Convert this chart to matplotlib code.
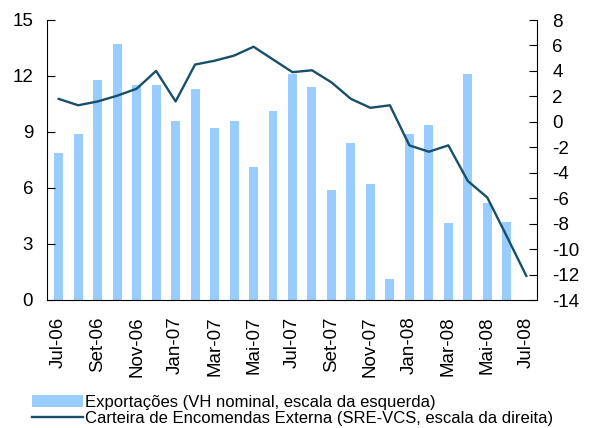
import matplotlib
matplotlib.use("Agg")
import matplotlib.pyplot as plt
import numpy as np

plt.rcParams["font.family"] = ["Liberation Sans", "DejaVu Sans"]
plt.rcParams["axes.unicode_minus"] = False

months = ["Jul-06", "Ago-06", "Set-06", "Out-06", "Nov-06", "Dez-06",
          "Jan-07", "Fev-07", "Mar-07", "Abr-07", "Mai-07", "Jun-07",
          "Jul-07", "Ago-07", "Set-07", "Out-07", "Nov-07", "Dez-07",
          "Jan-08", "Fev-08", "Mar-08", "Abr-08", "Mai-08", "Jun-08", "Jul-08"]
exports = [7.9, 8.9, 11.8, 13.7, 11.5, 11.5, 9.6, 11.3, 9.2, 9.6, 7.1, 10.1,
           12.1, 11.4, 5.9, 8.4, 6.2, 1.1, 8.9, 9.4, 4.1, 12.1, 5.2, 4.2, np.nan]
orders = [1.8, 1.3, 1.6, 2.05, 2.6, 4.0, 1.6, 4.5, 4.8, 5.2, 5.9, 4.9,
          3.9, 4.05, 3.1, 1.8, 1.1, 1.3, -1.85, -2.35, -1.85, -4.65, -5.95,
          -9.0, -12.1]

BAR_COLOR = "#99ccff"
LINE_COLOR = "#175068"

x = np.arange(len(months))
fig = plt.figure(figsize=(5.89, 4.28), dpi=100)
ax = fig.add_axes([47 / 589, 1 - 300 / 428, 490 / 589, 280 / 428])
bars = ax.bar(x, exports, width=0.46, color=BAR_COLOR,
              label="Exportações (VH nominal, escala da esquerda)")
ax.set_ylim(0, 15)
ax.set_yticks(range(0, 16, 3))
ax.set_xlim(-0.6, len(months) - 0.45)
ax.set_xticks(x[::2])
ax.set_xticklabels(months[::2], rotation=90)

ax2 = ax.twinx()
ln, = ax2.plot(x, orders, color=LINE_COLOR, linewidth=1.7,
               label="Carteira de Encomendas Externa (SRE-VCS, escala da direita)")
ax2.set_ylim(-14, 8)
ax2.set_yticks(range(-14, 9, 2))

for a in (ax, ax2):
    a.spines["top"].set_visible(False)
    for s in a.spines.values():
        s.set_color("#000000")
        s.set_linewidth(0.8)
    a.tick_params(axis="y", direction="in", length=6, width=0.8,
                  labelsize=13.5)
ax.tick_params(axis="y", pad=10)
ax2.tick_params(axis="y", pad=11)
ax.spines["right"].set_visible(False)
ax2.spines["left"].set_visible(False)
ax2.spines["bottom"].set_visible(False)
ax.tick_params(axis="x", length=0, labelsize=13.5, pad=12)

fig.legend(handles=[bars, ln], loc="upper left",
           bbox_to_anchor=(20 / 589, 1 - 383 / 428), frameon=False,
           fontsize=12, handlelength=3.1, handleheight=0.8,
           handletextpad=0.12, labelspacing=0.08, borderpad=0.2)

fig.savefig("out.png", dpi=100)
